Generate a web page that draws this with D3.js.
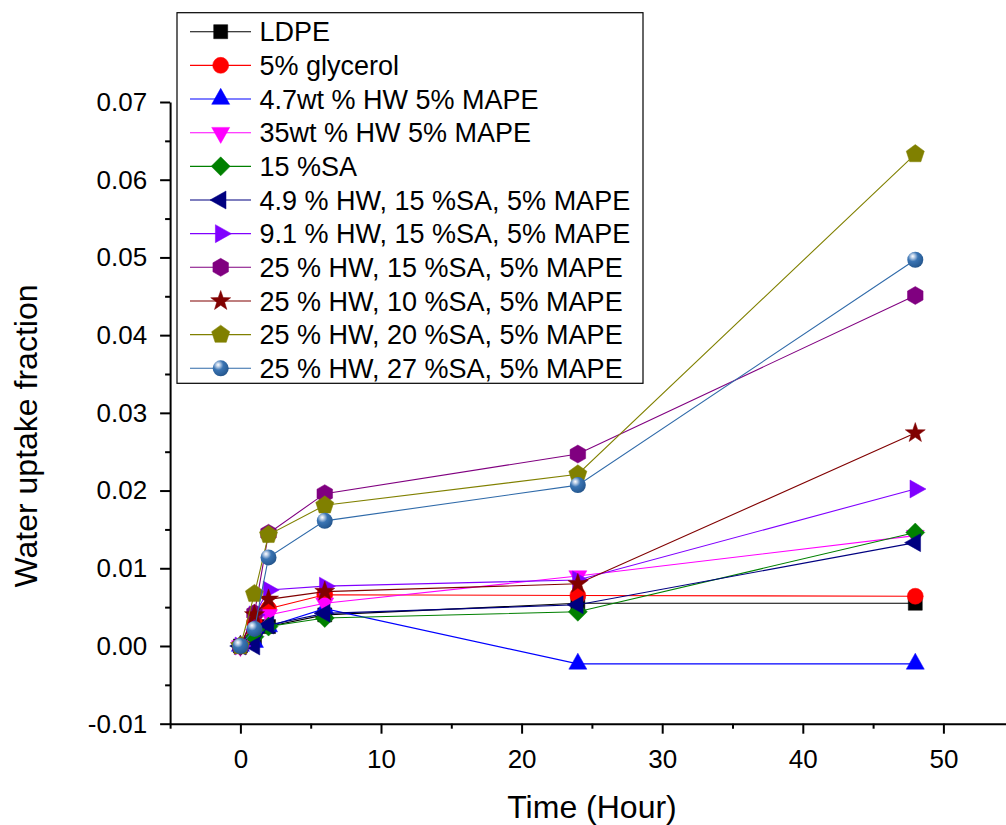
<!DOCTYPE html>
<html>
<head>
<meta charset="utf-8">
<script src="https://cdn.jsdelivr.net/npm/d3@7"></script>
<style>
  html, body { margin: 0; padding: 0; background: #fff; }
  svg { display: block; font-family: "Liberation Sans", Arial, sans-serif; }
</style>
</head>
<body>
<svg id="chart" width="1006" height="825"></svg>
<script>
// ---------------- data ----------------
const times = [0, 1, 2, 6, 24, 48];

const seriesNames = [
  "LDPE",
  "5% glycerol",
  "4.7wt % HW 5% MAPE",
  "35wt % HW 5% MAPE",
  "15 %SA",
  "4.9 % HW, 15 %SA, 5% MAPE",
  "9.1 % HW, 15 %SA, 5% MAPE",
  "25 % HW, 15 %SA, 5% MAPE",
  "25 % HW, 10 %SA, 5% MAPE",
  "25 % HW, 20 %SA, 5% MAPE",
  "25 % HW, 27 %SA, 5% MAPE"
];

const ldpe        = [0, 0.0010, 0.0025, 0.0040, 0.0055, 0.0055];
const glycerol    = [0, 0.0030, 0.0048, 0.0066, 0.0065, 0.0064];
const hw47        = [0, 0.0005, 0.0025, 0.0048, -0.0023, -0.0023];
const hw35        = [0, 0.0015, 0.0040, 0.0055, 0.0090, 0.0142];
const sa15        = [0, 0.0012, 0.0025, 0.0036, 0.0044, 0.0146];
const hw49sa15    = [0, 0.0000, 0.0027, 0.0042, 0.0053, 0.0133];
const hw91sa15    = [0, 0.0040, 0.0072, 0.0077, 0.0085, 0.0202];
const hw25sa15    = [0, 0.0042, 0.0145, 0.0196, 0.0247, 0.0451];
const hw25sa10    = [0, 0.0040, 0.0060, 0.0070, 0.0080, 0.0274];
const hw25sa20    = [0, 0.0067, 0.0143, 0.0181, 0.0221, 0.0633];
const hw25sa27    = [0, 0.0022, 0.0114, 0.0161, 0.0207, 0.0497];

const seriesValues = [ldpe, glycerol, hw47, hw35, sa15, hw49sa15, hw91sa15,
                      hw25sa15, hw25sa10, hw25sa20, hw25sa27];

const seriesColors = ["#000000", "#FF0000", "#0000FF", "#FF00FF", "#008000",
                      "#000080", "#8000FF", "#800080", "#800000", "#808000", "#2F6AA9"];
const seriesShapes = ["square", "circle", "up", "down", "diamond", "left", "right",
                      "hexagon", "star", "pentagon", "sphere"];

const xTicks = [0, 10, 20, 30, 40, 50];
const xTickLabels = ["0", "10", "20", "30", "40", "50"];
const xMinorTicks = [-5, 5, 15, 25, 35, 45];
const yTicks = [-0.01, 0, 0.01, 0.02, 0.03, 0.04, 0.05, 0.06, 0.07];
const yTickLabels = ["-0.01", "0.00", "0.01", "0.02", "0.03", "0.04", "0.05", "0.06", "0.07"];
const yMinorTicks = [-0.005, 0.005, 0.015, 0.025, 0.035, 0.045, 0.055, 0.065];

// ---------------- layout ----------------
const svg = d3.select("#chart");
svg.append("rect").attr("width", 1006).attr("height", 825).attr("fill", "#fff");

const x = d3.scaleLinear().domain([-5, 55]).range([170.1, 1013.7]);
const y = d3.scaleLinear().domain([-0.01, 0.07]).range([723.7, 102]);

const defs = svg.append("defs");
const grad = defs.append("radialGradient").attr("id", "sphereGrad")
  .attr("cx", "0.36").attr("cy", "0.32").attr("r", "0.7").attr("fx", "0.34").attr("fy", "0.28");
grad.append("stop").attr("offset", "0").attr("stop-color", "#ffffff");
grad.append("stop").attr("offset", "0.18").attr("stop-color", "#b9cde6");
grad.append("stop").attr("offset", "0.45").attr("stop-color", "#3a74b3");
grad.append("stop").attr("offset", "0.85").attr("stop-color", "#2a5f99");
grad.append("stop").attr("offset", "1").attr("stop-color", "#24548a");

function polyPath(pts) {
  return "M" + pts.map(p => p[0].toFixed(2) + "," + p[1].toFixed(2)).join("L") + "Z";
}
function regular(n, r, rot) {
  const pts = [];
  for (let i = 0; i < n; i++) {
    const a = rot + i * 2 * Math.PI / n;
    pts.push([r * Math.cos(a), r * Math.sin(a)]);
  }
  return pts;
}
function shapePath(kind) {
  switch (kind) {
    case "square": return "M-7,-7h14v14h-14Z";
    case "circle":
    case "sphere": return "M8,0A8,8 0 1,1 -8,0A8,8 0 1,1 8,0Z";
    case "up": return polyPath([[0, -10.7], [9, 5.3], [-9, 5.3]]);
    case "down": return polyPath([[0, 10.7], [9, -5.3], [-9, -5.3]]);
    case "left": return polyPath([[-10.7, 0], [5.3, -9], [5.3, 9]]);
    case "right": return polyPath([[10.7, 0], [-5.3, -9], [-5.3, 9]]);
    case "diamond": return polyPath([[0, -9.5], [9.5, 0], [0, 9.5], [-9.5, 0]]);
    case "hexagon": return polyPath(regular(6, 9, -Math.PI / 2));
    case "pentagon": return polyPath(regular(5, 9.5, -Math.PI / 2));
    case "star": {
      const pts = [];
      for (let i = 0; i < 10; i++) {
        const r = i % 2 === 0 ? 10.5 : 4.2;
        const a = -Math.PI / 2 + i * Math.PI / 5;
        pts.push([r * Math.cos(a), r * Math.sin(a)]);
      }
      return polyPath(pts);
    }
  }
}
function drawMarker(g, kind, color, cx, cy) {
  g.append("path")
    .attr("d", shapePath(kind))
    .attr("transform", `translate(${cx},${cy})`)
    .attr("fill", kind === "sphere" ? "url(#sphereGrad)" : color)
    .attr("stroke", kind === "sphere" ? "none" : color)
    .attr("stroke-width", 0.5);
}

// ---------------- axes ----------------
const fontTick = 26;
const yAxis = d3.axisLeft(y).tickValues(yTicks).tickSize(10).tickPadding(13)
  .tickFormat((d, i) => yTickLabels[i]).tickSizeOuter(0);
const yMinor = d3.axisLeft(y).tickValues(yMinorTicks).tickSize(5).tickFormat("").tickSizeOuter(0);
const xAxis = d3.axisBottom(x).tickValues(xTicks).tickSize(10).tickPadding(16)
  .tickFormat((d, i) => xTickLabels[i]).tickSizeOuter(0);
const xMinor = d3.axisBottom(x).tickValues(xMinorTicks).tickSize(5).tickFormat("").tickSizeOuter(0);

const gx = svg.append("g").attr("transform", `translate(0,${y(-0.01)})`).call(xAxis);
svg.append("g").attr("transform", `translate(0,${y(-0.01)})`).call(xMinor).select(".domain").remove();
const gy = svg.append("g").attr("transform", `translate(${x(-5)},0)`).call(yAxis);
svg.append("g").attr("transform", `translate(${x(-5)},0)`).call(yMinor).select(".domain").remove();

svg.selectAll(".domain").attr("stroke", "#000").attr("stroke-width", 2);
svg.selectAll(".tick line").attr("stroke", "#000").attr("stroke-width", 2);
svg.selectAll(".tick text").attr("font-size", fontTick)
  .attr("font-family", "'Liberation Sans', Arial, sans-serif").attr("fill", "#000");

// axis titles
svg.append("text")
  .attr("transform", "translate(37,436) rotate(-90)")
  .attr("text-anchor", "middle")
  .attr("font-size", 32)
  .attr("fill", "#000")
  .text("Water uptake fraction");
svg.append("text")
  .attr("x", 592).attr("y", 818)
  .attr("text-anchor", "middle")
  .attr("font-size", 32)
  .attr("fill", "#000")
  .text("Time (Hour)");

// ---------------- series ----------------
const line = d3.line().x(d => x(d[0])).y(d => y(d[1]));
const plot = svg.append("g");
seriesValues.forEach((vals, i) => {
  const pts = times.map((t, j) => [t, vals[j]]);
  const g = plot.append("g");
  g.append("path").attr("d", line(pts)).attr("fill", "none")
    .attr("stroke", seriesColors[i]).attr("stroke-width", 1.1);
  pts.forEach(p => drawMarker(g, seriesShapes[i], seriesColors[i], x(p[0]), y(p[1])));
});

// ---------------- legend ----------------
const lg = svg.append("g");
lg.append("rect").attr("x", 177).attr("y", 12.7).attr("width", 466).attr("height", 370.6)
  .attr("fill", "#fff").attr("stroke", "#000").attr("stroke-width", 1.2);
const rowStep = 33.66;
seriesNames.forEach((name, i) => {
  const cy = 31.7 + i * rowStep;
  lg.append("line").attr("x1", 190).attr("x2", 251).attr("y1", cy).attr("y2", cy)
    .attr("stroke", seriesColors[i]).attr("stroke-width", 1.1);
  drawMarker(lg, seriesShapes[i], seriesColors[i], 220.7, cy);
  lg.append("text").attr("x", 259.5).attr("y", cy + 9.7)
    .attr("font-size", 27).attr("fill", "#000").text(name);
});
</script>
</body>
</html>
